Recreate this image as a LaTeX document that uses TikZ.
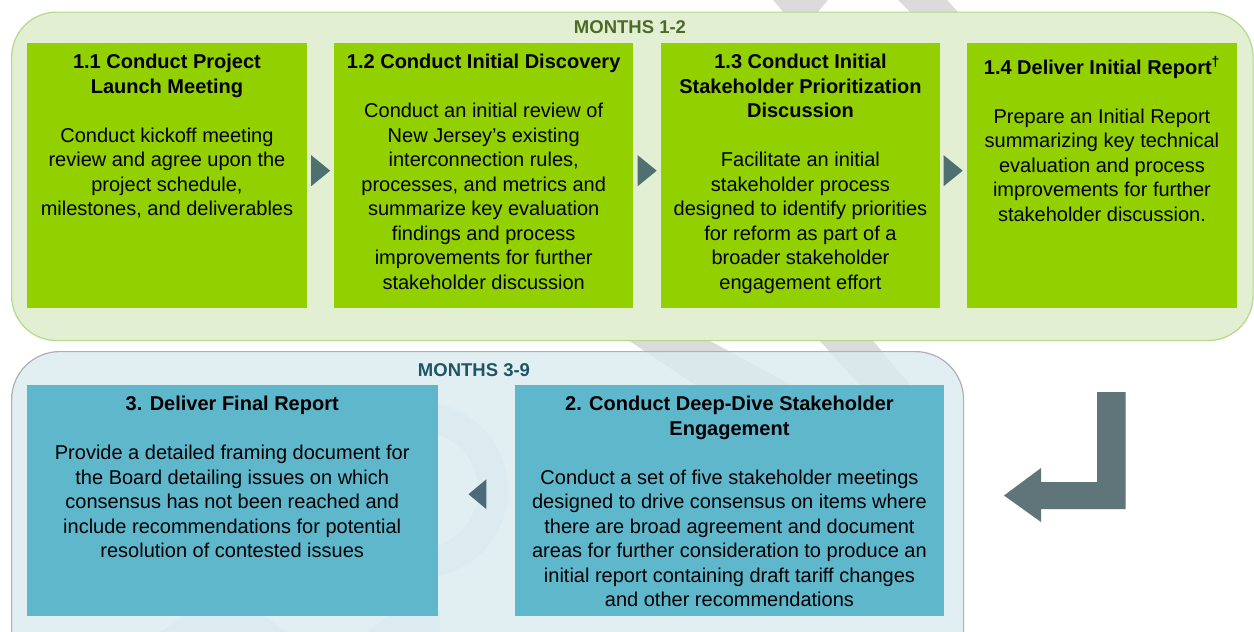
\documentclass[tikz,border=0pt]{standalone}
\usepackage{fontspec}
\setmainfont{Liberation Sans}
\usetikzlibrary{calc}
\definecolor{gpanelfill}{HTML}{E2EFD3}
\definecolor{gpaneldraw}{HTML}{B2DA88}
\definecolor{gboxfill}{HTML}{92D000}
\definecolor{gtitle}{HTML}{4E6B26}
\definecolor{bpanelfill}{RGB}{218,236,241}
\definecolor{bpaneldraw}{HTML}{B0B0B0}
\definecolor{bboxfill}{HTML}{5FB7CC}
\definecolor{btitle}{HTML}{1F5564}
\definecolor{tricol}{HTML}{4F7070}
\definecolor{btricol}{HTML}{4B6B78}
\definecolor{larrow}{HTML}{5F7579}
\begin{document}
\begin{tikzpicture}[x=1pt,y=-1pt,
  gpanel/.style={shape=rectangle, fill=gpanelfill, draw=gpaneldraw, line width=1.2pt, rounded corners=45pt, anchor=north west, inner sep=0pt},
  bpanel/.style={shape=rectangle, fill=bpanelfill, fill opacity=0.8, draw=bpaneldraw, line width=1.2pt, rounded corners=48pt, anchor=north west, inner sep=0pt},
  gbox/.style={shape=rectangle, fill=gboxfill, anchor=north west, inner sep=0pt, minimum height=265pt},
  bbox/.style={shape=rectangle, fill=bboxfill, anchor=north west, inner sep=0pt, minimum height=231pt},
  txt/.style={anchor=north, inner sep=0pt, align=center, font=\fontsize{20}{24.5}\selectfont},
  ptitle/.style={inner sep=0pt, font=\fontsize{18.5}{22}\selectfont\bfseries},
  tri/.style={fill=tricol},
  btri/.style={fill=btricol},
  bigarrow/.style={fill=larrow},
  wmark/.style={fill=black, fill opacity=0.14},
  wmarklight/.style={fill=black, fill opacity=0.09}
]
\clip (0,0) rectangle (1254,632);
\fill[white] (0,0) rectangle (1254,632);

% faint background watermark
\fill[wmark] (765,-10) -- (836,-10) -- (818,12) -- (783,12) -- cycle;
\fill[wmark] (888,-10) -- (938,-10) -- (958,12) -- (910,12) -- cycle;
\fill[wmark] (613,330) -- (690,330) -- (804,392) -- (706,392) -- cycle;
\fill[wmark] (810,330) -- (864,330) -- (916,392) -- (866,392) -- cycle;
\fill[wmarklight, even odd rule] (420,490) circle[radius=88] (420,490) circle[radius=58];
\fill[wmarklight] (147,640) -- (300,640) -- (255,610) -- (195,610) -- cycle;
\fill[wmarklight] (357,640) -- (440,640) -- (440,610) -- (395,610) -- cycle;

% panels
\node[gpanel, minimum width=1241.5pt, minimum height=328.5pt] (p1) at (11,11.5) {};
\node[bpanel, minimum width=952pt, minimum height=330pt] (p2) at (11,351) {};

\node[ptitle, text=gtitle] (m12) at (630,27) {MONTHS 1-2};
\node[ptitle, text=btitle] (m39) at (474,370) {MONTHS 3-9};

% green boxes
\node[gbox, minimum width=280.5pt] (b11) at (26.5,43) {};
\node[gbox, minimum width=299pt] (b12) at (334,43) {};
\node[gbox, minimum width=278.5pt] (b13) at (661,43) {};
\node[gbox, minimum width=270.5pt] (b14) at (966.5,43) {};

% blue boxes
\node[bbox, minimum width=411pt] (b3) at (26.5,385) {};
\node[bbox, minimum width=428.5pt] (b2) at (515,385) {};

% texts
\node[txt] (t11) at ($(b11.north)+(0,11)$) {\textbf{1.1 Conduct Project}\\\textbf{Launch Meeting}\\[24.5pt]Conduct kickoff meeting\\review and agree upon the\\project schedule,\\milestones, and deliverables};
\node[txt] (t12) at ($(b12.north)+(0,11)$) {\textbf{1.2 Conduct Initial Discovery}\\[24.5pt]Conduct an initial review of\\New Jersey’s existing\\interconnection rules,\\processes, and metrics and\\summarize key evaluation\\findings and process\\improvements for further\\stakeholder discussion};
\node[txt] (t13) at ($(b13.north)+(0,11)$) {\textbf{1.3 Conduct Initial}\\\textbf{Stakeholder Prioritization}\\\textbf{Discussion}\\[24.5pt]Facilitate an initial\\stakeholder process\\designed to identify priorities\\for reform as part of a\\broader stakeholder\\engagement effort};
\node[txt] (t14) at ($(b14.north)+(0,13.5)$) {\textbf{1.4 Deliver Initial Report\textsuperscript{†}}\\[24.5pt]Prepare an Initial Report\\summarizing key technical\\evaluation and process\\improvements for further\\stakeholder discussion.};
\node[txt] (t3) at ($(b3.north)+(0,11)$) {\textbf{3. Deliver Final Report}\\[24.5pt]Provide a detailed framing document for\\the Board detailing issues on which\\consensus has not been reached and\\include recommendations for potential\\resolution of contested issues};
\node[txt] (t2) at ($(b2.north)+(0,11)$) {\textbf{2. Conduct Deep-Dive Stakeholder}\\\textbf{Engagement}\\[24.5pt]Conduct a set of five stakeholder meetings\\designed to drive consensus on items where\\there are broad agreement and document\\areas for further consideration to produce an\\initial report containing draft tariff changes\\and other recommendations};

% small triangle connectors
\coordinate (a1) at ($(b11.east)!0.5!(b12.west)+(0,-5)$);
\coordinate (a2) at ($(b12.east)!0.5!(b13.west)+(0,-5)$);
\coordinate (a3) at ($(b13.east)!0.5!(b14.west)+(0,-5)$);
\coordinate (a4) at ($(b3.east)!0.5!(b2.west)+(1,-6.5)$);
\foreach \c in {a1,a2,a3}{
  \fill[tri] ($(\c)+(-9.5,-15.5)$) -- ($(\c)+(9.5,0)$) -- ($(\c)+(-9.5,15.5)$) -- cycle;
}
\fill[btri] ($(a4)+(9,-15)$) -- ($(a4)+(-9,0)$) -- ($(a4)+(9,15)$) -- cycle;

% big L arrow
\fill[bigarrow] (1097,392) -- (1125.5,392) -- (1125.5,509) -- (1041,509) -- (1041,522)
  -- (1004,495.5) -- (1041,468) -- (1041,482) -- (1097,482) -- cycle;
\end{tikzpicture}
\end{document}
